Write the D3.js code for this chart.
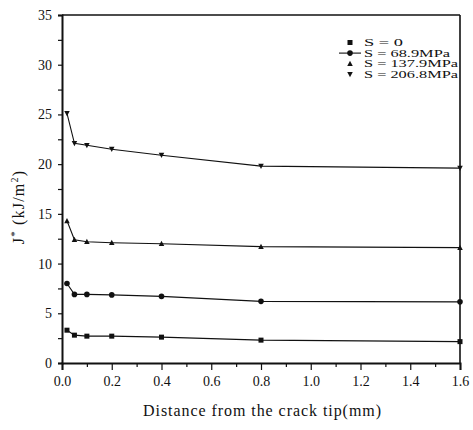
<!DOCTYPE html>
<html>
<head>
<meta charset="utf-8">
<script src="https://cdn.jsdelivr.net/npm/d3@7"></script>
<style>
  html, body { margin: 0; padding: 0; background: #fff; }
  svg text { font-family: "Liberation Serif", "DejaVu Serif", serif; fill: #111; }
</style>
</head>
<body>
<svg id="chart" width="473" height="430"></svg>
<script>
// Distance from the crack tip (mm) at which J* was evaluated
const distances = [0.02, 0.05, 0.1, 0.2, 0.4, 0.8, 1.6];

// J* (kJ/m^2) for each applied stress level
const s0     = [3.3, 2.8, 2.7, 2.7, 2.6, 2.3, 2.15];
const s68_9  = [8.0, 6.9, 6.9, 6.85, 6.7, 6.2, 6.15];
const s137_9 = [14.3, 12.4, 12.2, 12.1, 12.0, 11.7, 11.6];
const s206_8 = [25.1, 22.1, 21.9, 21.5, 20.9, 19.8, 19.6];

const seriesNames = ["S = 0", "S = 68.9MPa", "S = 137.9MPa", "S = 206.8MPa"];
const seriesValues = [s0, s68_9, s137_9, s206_8];
const seriesSymbols = ["square", "circle", "up", "down"];

const xTicks = [0, 0.2, 0.4, 0.6, 0.8, 1.0, 1.2, 1.4, 1.6];
const yTicks = [0, 5, 10, 15, 20, 25, 30, 35];

const svg = d3.select("#chart");
const plotLeft = 62, plotRight = 460, plotTop = 15, plotBottom = 363;

const x = d3.scaleLinear().domain([0, 1.6]).range([plotLeft, plotRight]);
const y = d3.scaleLinear().domain([0, 35]).range([plotBottom, plotTop]);

// Frame
svg.append("line").attr("x1", plotLeft).attr("x2", plotRight).attr("y1", plotTop).attr("y2", plotTop)
  .attr("stroke", "#111").attr("stroke-width", 1.4);
svg.append("line").attr("x1", plotRight).attr("x2", plotRight).attr("y1", plotTop).attr("y2", plotBottom)
  .attr("stroke", "#111").attr("stroke-width", 1.6);

// Bottom axis: major ticks every 0.2, minor every 0.1
svg.append("g").attr("transform", `translate(0,${plotBottom})`)
  .call(d3.axisBottom(x).tickValues(xTicks).tickFormat(d3.format(".1f"))
    .tickSize(7).tickPadding(6));
svg.append("g").attr("transform", `translate(0,${plotBottom})`)
  .call(d3.axisBottom(x).tickValues(d3.range(0.1, 1.6, 0.2)).tickFormat("").tickSize(4))
  .select(".domain").remove();

// Left axis: major ticks every 5, minor every 2.5
svg.append("g").attr("transform", `translate(${plotLeft},0)`)
  .call(d3.axisLeft(y).tickValues(yTicks).tickSize(4).tickPadding(6));
svg.append("g").attr("transform", `translate(${plotLeft},0)`)
  .call(d3.axisLeft(y).tickValues(d3.range(2.5, 35, 5)).tickFormat("").tickSize(4))
  .select(".domain").remove();

svg.selectAll(".domain").attr("stroke", "#111").attr("stroke-width", 2);
svg.selectAll(".tick line").attr("stroke", "#111").attr("stroke-width", 1.2);
svg.selectAll(".tick text").attr("font-size", 14).attr("fill", "#111")
  .style("font-family", '"Liberation Serif", "DejaVu Serif", serif');

// Axis titles
svg.append("text")
  .attr("x", 262).attr("y", 416).attr("text-anchor", "middle")
  .attr("font-size", 16).attr("textLength", 238).attr("lengthAdjust", "spacing")
  .text("Distance from the crack tip(mm)");

const yLab = svg.append("text")
  .attr("transform", "translate(24,207) rotate(-90)")
  .attr("text-anchor", "middle").attr("font-size", 16)
  .attr("letter-spacing", 1.2);
yLab.append("tspan").text("J");
yLab.append("tspan").attr("font-size", 11).attr("dy", -6).text("*");
yLab.append("tspan").attr("dy", 6).text(" (kJ/m");
yLab.append("tspan").attr("font-size", 10).attr("dy", -6).text("2");
yLab.append("tspan").attr("dy", 6).text(")");

// Marker shapes
function drawMarker(g, kind, cx, cy, size) {
  if (kind === "square") {
    g.append("rect").attr("x", cx - size / 2).attr("y", cy - size / 2)
      .attr("width", size).attr("height", size).attr("fill", "#111");
  } else if (kind === "circle") {
    g.append("circle").attr("cx", cx).attr("cy", cy).attr("r", size / 2 + 0.3).attr("fill", "#111");
  } else {
    const h = size * 0.95, w = size * 1.1;
    const pts = kind === "up"
      ? [[cx, cy - h / 2 - 0.5], [cx - w / 2, cy + h / 2], [cx + w / 2, cy + h / 2]]
      : [[cx, cy + h / 2 + 0.5], [cx - w / 2, cy - h / 2], [cx + w / 2, cy - h / 2]];
    g.append("polygon").attr("points", pts.map(p => p.join(",")).join(" ")).attr("fill", "#111");
  }
}

const line = d3.line().x(d => x(d[0])).y(d => y(d[1]));

seriesValues.forEach((vals, i) => {
  const pts = distances.map((d, j) => [d, vals[j]]);
  const g = svg.append("g");
  g.append("path").attr("d", line(pts)).attr("fill", "none")
    .attr("stroke", "#111").attr("stroke-width", 1.1);
  pts.forEach(p => drawMarker(g, seriesSymbols[i], x(p[0]), y(p[1]), 5));
});

// Legend: compact rows, text stretched horizontally
const legendWidths = [39, 86, 94, 94];
const legend = svg.append("g");
seriesNames.forEach((name, i) => {
  const ly = 42.5 + i * 10.6;
  if (i === 1) {
    legend.append("line").attr("x1", 339).attr("x2", 361).attr("y1", ly).attr("y2", ly)
      .attr("stroke", "#111").attr("stroke-width", 1.1);
  }
  drawMarker(legend, seriesSymbols[i], 350, ly, 5);
  legend.append("text").attr("x", 364).attr("y", ly + 3.6)
    .attr("font-size", 9.5)
    .attr("textLength", legendWidths[i]).attr("lengthAdjust", "spacingAndGlyphs")
    .text(name);
});
</script>
</body>
</html>
